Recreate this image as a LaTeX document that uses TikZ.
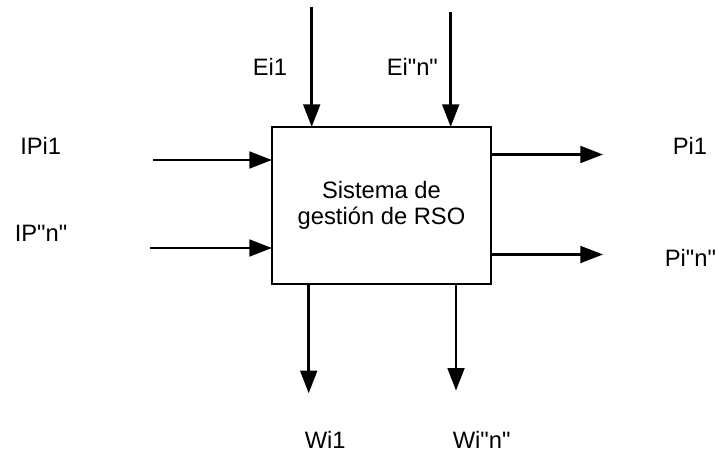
\documentclass[tikz,border=0pt]{standalone}
\usepackage{fontspec}
\setmainfont{Liberation Sans}[Ligatures=TeXOff]
\usetikzlibrary{arrows.meta}
\begin{document}
\begin{tikzpicture}[x=0.75pt,y=-0.75pt,
  lbl/.style={anchor=base west,inner sep=0pt,font=\fontsize{17.8}{20}\selectfont},
  arr/.style={line width=2.2pt,-{Triangle[length=17pt,width=12.5pt]}},
  sysbox/.style={draw,line width=2.2pt,outer sep=0pt,minimum width=164.25pt,minimum height=117.75pt,align=center,font=\fontsize{17.8}{20}\selectfont}]
\useasboundingbox (0,0) rectangle (716,452);
\node[sysbox] (box) at (381.5,205.5) {Sistema de\\gestión de RSO};
% top inputs
\coordinate (e1s) at (311.7,7.3);
\coordinate (ens) at (450.7,11.7);
\draw[arr] (e1s) -- (e1s |- box.north);
\draw[arr] (ens) -- (ens |- box.north);
\node[lbl] (le1) at (252.5,75.7) {Ei1};
\node[lbl] (len) at (386.5,75.7) {Ei"n"};
% left inputs
\coordinate (i1s) at (153.3,160);
\coordinate (ins) at (150,248);
\draw[arr] (i1s) -- (i1s -| box.west);
\draw[arr] (ins) -- (ins -| box.west);
\node[lbl] (li1) at (20,155) {IPi1};
\node[lbl] (lin) at (14.5,241.7) {IP"n"};
% right outputs
\coordinate (p1e) at (603,154.5);
\coordinate (pne) at (603,254.5);
\draw[arr] (p1e -| box.east) -- (p1e);
\draw[arr] (pne -| box.east) -- (pne);
\node[lbl] (lp1) at (672.5,155) {Pi1};
\node[lbl] (lpn) at (664.5,266.7) {Pi"n"};
% bottom outputs
\coordinate (w1e) at (308.7,393.3);
\coordinate (wne) at (456,390.7);
\draw[arr] (w1e |- box.south) -- (w1e);
\draw[arr] (wne |- box.south) -- (wne);
\node[lbl] (lw1) at (304.5,448.3) {Wi1};
\node[lbl] (lwn) at (452.5,448.3) {Wi"n"};
\end{tikzpicture}
\end{document}
